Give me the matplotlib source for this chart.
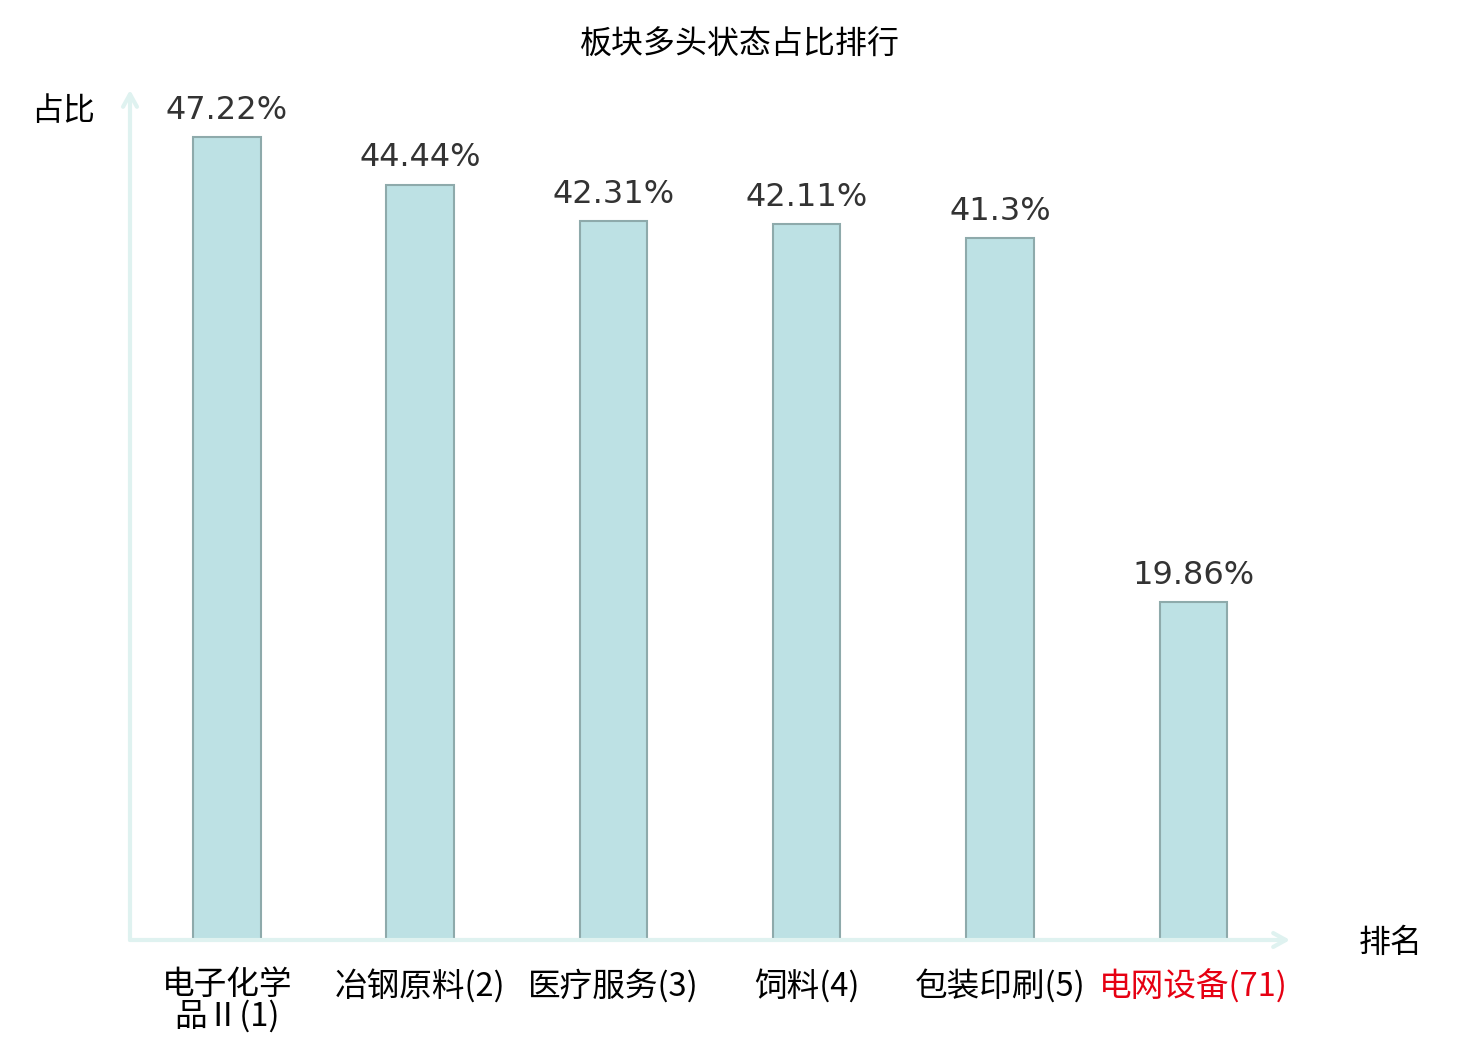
import matplotlib
matplotlib.use("Agg")
import matplotlib.pyplot as plt

plt.rcParams['font.family'] = ['Noto Sans CJK SC', 'DejaVu Sans']

# data
sectors = ["电子化学\n品Ⅱ(1)", "冶钢原料(2)", "医疗服务(3)", "饲料(4)", "包装印刷(5)", "电网设备(71)"]
shares = [47.22, 44.44, 42.31, 42.11, 41.3, 19.86]
share_labels = ["47.22%", "44.44%", "42.31%", "42.11%", "41.3%", "19.86%"]
label_colors = ["#000000"] * 5 + ["#e60012"]

AXIS_COLOR = "#dff2f0"

fig = plt.figure(figsize=(14.8, 10.4), dpi=100)
ax = fig.add_axes([130 / 1480, 100 / 1040, 1160 / 1480, 850 / 1040])

x = list(range(len(shares)))
ax.bar(x, shares, width=0.35, color="#bde1e4", edgecolor="#8eaaab", linewidth=1.5)

for xi, v, lab in zip(x, shares, share_labels):
    ax.annotate(lab, (xi, v), xytext=(0, 8), textcoords="offset points",
                ha="center", va="bottom", fontsize=23, color="#333333",
                family="DejaVu Sans")

ax.set_xlim(-0.5, 5.5)
ax.set_ylim(0, 50)
ax.set_yticks([])
ax.set_xticks(x)
ax.set_xticklabels(sectors, fontsize=23.5, linespacing=0.95)
for tl, c in zip(ax.get_xticklabels(), label_colors):
    tl.set_color(c)
ax.tick_params(axis="x", length=0, pad=21)
for s in ax.spines.values():
    s.set_visible(False)

# axis arrows
arrow = dict(arrowstyle="->,head_length=0.9,head_width=0.5", color=AXIS_COLOR, lw=3,
             shrinkA=0, shrinkB=0)
ax.annotate("", xy=(1.0, 0), xytext=(0, 0), xycoords="axes fraction", arrowprops=arrow)
ax.annotate("", xy=(0, 1.0), xytext=(0, 0), xycoords="axes fraction", arrowprops=arrow)

fig.text(63 / 1480, 1 - 111 / 1040, "占比", fontsize=23, ha="center", va="center")
fig.text(1391 / 1480, 1 - 943 / 1040, "排名", fontsize=23, ha="center", va="center")
fig.text(740 / 1480, 1 - 45 / 1040, "板块多头状态占比排行", fontsize=23, ha="center", va="center")

fig.savefig("out.png", dpi=100)
